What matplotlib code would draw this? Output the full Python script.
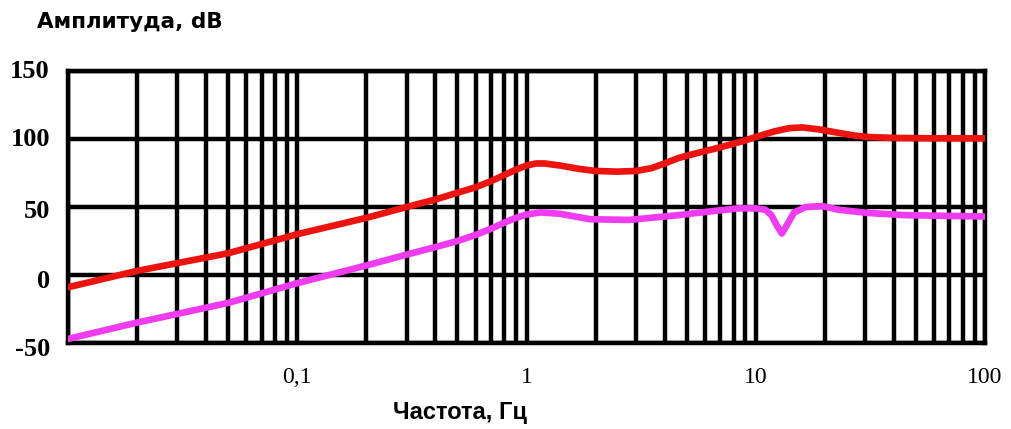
import matplotlib
matplotlib.use("Agg")
import matplotlib.pyplot as plt
import matplotlib.transforms as mtransforms
from matplotlib.ticker import FixedLocator, LogLocator, NullFormatter, FixedFormatter

# Frequency response, upper trace (red)
freq_red = [0.01, 0.02, 0.05, 0.1, 0.2, 0.3, 0.4, 0.5, 0.6, 0.7, 0.8, 0.9, 1.0, 1.1,
            1.2, 1.4, 1.7, 2.0, 2.5, 3.0, 3.5, 4.0, 4.6, 5.5, 6.5, 7.6, 9.0, 10, 12, 14,
            16, 19, 23, 27, 31, 40, 60, 100]
amp_red = [-9, 3, 16, 30, 42, 50, 55.5, 60.5, 64.5, 69, 73.5, 77.5, 80.5, 82,
           82, 80.5, 78, 76.5, 76, 76.5, 78.5, 82, 86, 89.5, 92.5, 95.5, 99, 101.5, 105.5, 108,
           108.5, 107, 104.5, 102.5, 101.5, 100.8, 100.5, 100.5]

# Frequency response, lower trace (magenta)
freq_mag = [0.01, 0.02, 0.05, 0.1, 0.2, 0.3, 0.4, 0.5, 0.6, 0.7, 0.8, 0.9, 1.0, 1.15,
            1.4, 1.9, 2.8, 4.6, 6.5, 8.4, 10, 11, 11.7, 12.4, 13, 13.7, 14.7, 16.5, 19.5,
            23, 31, 45, 100]
amp_mag = [-47, -35, -20.5, -6, 7, 15, 20.5, 25, 29.5, 34, 38.5, 42, 44.5, 46,
           45, 41, 40.5, 44, 47, 49, 49, 48, 44, 36, 30.5, 37, 46, 50, 50.7,
           48, 45.6, 44, 43]

x_tick_values = [0.1, 1, 10, 100]
x_tick_labels = ["0,1", "1", "10", "100"]
y_tick_values = [-50, 0, 50, 100, 150]
y_tick_labels = ["-50", "0", "50", "100", "150"]

fig = plt.figure(figsize=(10.11, 4.29), dpi=100)
ax = fig.add_axes([68 / 1011, 1 - 343 / 429, (985 - 68) / 1011, (343 - 71) / 429])

ax.set_xscale("log")
ax.set_xlim(0.01, 100)
ax.set_ylim(-50, 150)

# Dense log grid: every decade and every minor step
ax.xaxis.set_major_locator(FixedLocator(x_tick_values))
ax.xaxis.set_major_formatter(FixedFormatter(x_tick_labels))
ax.xaxis.set_minor_locator(LogLocator(base=10, subs=range(1, 10), numticks=50))
ax.xaxis.set_minor_formatter(NullFormatter())
ax.set_yticks(y_tick_values)
ax.set_yticklabels([])

grid_lw = 3.2
ax.grid(True, which="both", axis="x", color="black", lw=grid_lw)
ax.grid(True, which="major", axis="y", color="black", lw=grid_lw)
ax.set_axisbelow(True)
for sp in ax.spines.values():
    sp.set_linewidth(grid_lw)
    sp.set_color("black")

ax.tick_params(which="both", length=0)
ax.tick_params(axis="x", pad=17)
for lab in ax.get_xticklabels():
    lab.set_fontfamily("Liberation Serif")
    lab.set_fontsize(17)

# Y labels: bold serif, right-aligned left of the frame, lower ones sit a bit lower
y_label_drop_px = [7, 7, 5, 1, 1]
ylab_trans = mtransforms.blended_transform_factory(ax.transAxes, ax.transData)
for val, txt, drop in zip(y_tick_values, y_tick_labels, y_label_drop_px):
    tr = ylab_trans + mtransforms.ScaledTranslation(-18 / 100, -drop / 100, fig.dpi_scale_trans)
    ax.text(0, val, txt, transform=tr, ha="right", va="center",
            fontfamily="Liberation Serif", fontweight="bold", fontsize=19, clip_on=False)

ax.plot(freq_red, amp_red, color="#ec1410", lw=4.8, solid_capstyle="round",
        solid_joinstyle="round", zorder=3)
ax.plot(freq_mag, amp_mag, color="#f03cf0", lw=4.8, solid_capstyle="round",
        solid_joinstyle="round", zorder=3)

fig.text(37 / 1011, 1 - 22 / 429, "Амплитуда, dB", fontfamily="DejaVu Sans",
         fontweight="heavy", fontsize=15.5, ha="left", va="center")
fig.text(460 / 1011, 1 - 413 / 429, "Частота, Гц", fontfamily="Liberation Sans",
         fontweight="bold", fontsize=17, ha="center", va="center")

fig.savefig("out.png", dpi=100)
